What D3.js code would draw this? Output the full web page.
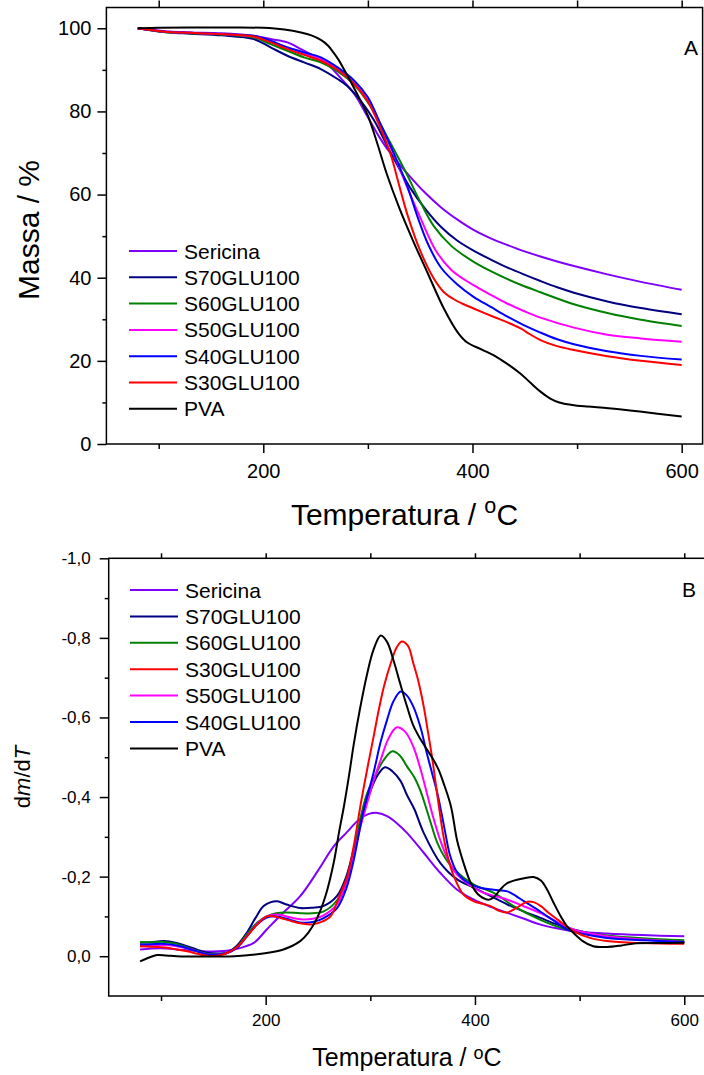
<!DOCTYPE html>
<html>
<head>
<meta charset="utf-8">
<script src="https://cdn.jsdelivr.net/npm/d3@7"></script>
<style>
  body { margin: 0; background: #fff; }
  text { font-family: "Liberation Sans", Arial, sans-serif; fill: #000; }
</style>
</head>
<body>
<div id="chart"></div>
<script>
// ---- panel A : TGA, [temperature (°C), mass (%)] ----
var tgaSericina = [[80,100],[95,99.6],[110,99.2],[130,99],[160,98.8],[190,98.2],[207,97.4],[223,96.6],[236,95],[248,93.4],[261,91.4],[274,88],[287,84.2],[300,78.6],[312,73.4],[322,69.8],[338,65],[354,60.6],[370,56.9],[386,53.9],[401,51.5],[418,49.4],[433,47.9],[449,46.4],[465,45.1],[481,43.9],[497,42.8],[529,40.8],[561,39],[600,37.1]];
var tgaS70 = [[80,100],[95,99.4],[110,99],[130,98.7],[160,98.3],[191,97.4],[207,95.4],[223,93.4],[239,91.8],[255,90.2],[271,87.8],[280,86.2],[293,82.6],[306,77.8],[319,71.4],[331,65.8],[340,61.8],[355,56.5],[370,52.2],[385,49],[401,46.5],[418,44.3],[433,42.5],[449,40.8],[465,39.2],[481,37.7],[497,36.4],[529,34.3],[561,32.7],[600,31.2]];
var tgaS60 = [[80,100],[95,99.4],[110,99],[130,98.8],[159,98.5],[191,97.8],[207,96.2],[223,94.6],[239,93],[255,91.8],[271,89.6],[287,86.4],[303,81],[319,73.6],[335,66],[350,58.3],[363,52.4],[380,47.6],[400,44],[418,41.5],[433,39.7],[446,38.3],[465,36.5],[497,33.6],[529,31.5],[561,29.9],[600,28.4]];
var tgaS50 = [[80,100],[95,99.5],[110,99.1],[130,98.9],[159,98.6],[191,98],[207,96.8],[223,95.4],[239,94],[255,92.6],[271,90.2],[287,86.8],[300,82.6],[312,76.5],[325,69.5],[338,61.5],[350,54.5],[365,46.5],[380,41.8],[401,38.2],[418,35.8],[433,33.8],[449,32],[465,30.4],[497,28],[529,26.3],[561,25.4],[600,24.6]];
var tgaS40 = [[80,100],[95,99.5],[110,99.1],[130,98.9],[159,98.6],[191,98.2],[207,97],[223,95.4],[239,94.2],[255,93],[271,90.6],[287,87.4],[300,83.4],[312,77],[325,69.8],[338,61.8],[347,55],[358,47.8],[370,42.4],[385,38.5],[401,35.4],[418,32.9],[433,30.7],[449,28.6],[465,26.8],[481,25.2],[497,24],[529,22.3],[561,21.2],[600,20.3]];
var tgaS30 = [[80,100],[95,99.5],[110,99.1],[130,98.9],[159,98.6],[191,98],[207,96.6],[223,95],[239,93.6],[255,92.2],[271,90],[287,86.6],[300,82.4],[312,76],[322,69.5],[328,64],[338,55],[350,46.5],[363,39.8],[372,36.7],[381,35],[390,33.8],[401,32.6],[420,30.6],[433,29.3],[446,27.8],[455,26.4],[465,25],[480,23.6],[497,22.6],[529,21.1],[561,20],[600,19]];
var tgaPVA = [[80,100],[100,100.1],[130,100.2],[170,100.2],[200,100.1],[220,99.7],[236,99],[246,98.3],[255,97.2],[262,95.8],[267,94.2],[272,92.4],[277,90.2],[286,86],[293,82.6],[300,79],[309,72.3],[318,65],[330,56.8],[343,49],[357,41.2],[373,32.4],[386,26.8],[395,24.4],[410,22.6],[424,20.8],[436,18.8],[446,16.9],[456,14.6],[465,12.6],[474,11],[483,10],[495,9.4],[510,9],[530,8.6],[560,7.8],[600,6.6]];

// ---- panel B : DTG, [temperature (°C), dm/dT] ----
var dtgSericina = [[80,-0.017],[100,-0.02],[120,-0.016],[138,-0.0125],[160,-0.013],[170,-0.017],[180,-0.024],[189,-0.034],[201,-0.067],[215,-0.105],[233,-0.151],[250,-0.215],[265,-0.276],[277,-0.31],[289,-0.343],[298,-0.357],[307,-0.36],[316,-0.352],[325,-0.335],[335,-0.31],[351,-0.26],[367,-0.209],[383,-0.167],[399,-0.142],[415,-0.124],[431,-0.109],[447,-0.094],[462,-0.08],[478,-0.07],[494,-0.063],[526,-0.057],[560,-0.053],[600,-0.05]];
var dtgS70 = [[80,-0.034],[90,-0.035],[103,-0.038],[115,-0.033],[125,-0.025],[135,-0.016],[144,-0.009],[155,-0.007],[163,-0.009],[172,-0.025],[182,-0.059],[190,-0.095],[198,-0.126],[205,-0.136],[211,-0.138],[220,-0.13],[233,-0.121],[245,-0.122],[255,-0.126],[268,-0.151],[277,-0.2],[284,-0.268],[292,-0.35],[300,-0.415],[307,-0.455],[314,-0.475],[321,-0.465],[329,-0.44],[335,-0.405],[342,-0.37],[351,-0.31],[367,-0.234],[383,-0.193],[399,-0.172],[415,-0.151],[431,-0.13],[447,-0.112],[462,-0.097],[478,-0.08],[494,-0.067],[526,-0.05],[560,-0.042],[600,-0.036]];
var dtgS60 = [[80,-0.036],[90,-0.035],[103,-0.036],[115,-0.031],[125,-0.022],[135,-0.013],[144,-0.006],[155,-0.005],[163,-0.008],[172,-0.022],[182,-0.055],[192,-0.085],[201,-0.1],[210,-0.108],[220,-0.11],[233,-0.108],[245,-0.108],[255,-0.112],[268,-0.14],[277,-0.19],[284,-0.25],[290,-0.34],[297,-0.41],[303,-0.444],[312,-0.49],[321,-0.515],[328,-0.505],[335,-0.477],[342,-0.45],[348,-0.415],[356,-0.35],[364,-0.285],[372,-0.245],[380,-0.218],[399,-0.18],[418,-0.159],[437,-0.126],[462,-0.092],[478,-0.075],[494,-0.063],[526,-0.052],[560,-0.045],[600,-0.04]];
var dtgS50 = [[80,-0.025],[90,-0.026],[103,-0.028],[115,-0.025],[125,-0.02],[135,-0.012],[144,-0.005],[155,-0.004],[163,-0.008],[172,-0.02],[182,-0.05],[192,-0.082],[201,-0.1],[210,-0.105],[220,-0.1],[233,-0.093],[245,-0.094],[255,-0.102],[268,-0.13],[277,-0.18],[284,-0.25],[291,-0.33],[297,-0.385],[303,-0.44],[310,-0.494],[317,-0.545],[325,-0.575],[333,-0.565],[341,-0.527],[348,-0.47],[354,-0.41],[360,-0.35],[367,-0.29],[373,-0.25],[380,-0.215],[386,-0.197],[405,-0.163],[418,-0.152],[431,-0.142],[447,-0.125],[462,-0.109],[478,-0.087],[494,-0.067],[526,-0.05],[560,-0.042],[600,-0.036]];
var dtgS40 = [[80,-0.029],[90,-0.03],[103,-0.031],[115,-0.027],[125,-0.02],[135,-0.012],[144,-0.005],[155,-0.004],[163,-0.008],[172,-0.02],[182,-0.05],[192,-0.08],[201,-0.097],[210,-0.1],[220,-0.094],[233,-0.085],[245,-0.086],[255,-0.095],[268,-0.12],[277,-0.17],[284,-0.24],[293,-0.36],[303,-0.46],[310,-0.54],[316,-0.594],[322,-0.64],[329,-0.665],[335,-0.655],[341,-0.628],[348,-0.575],[354,-0.51],[359,-0.46],[364,-0.41],[368,-0.36],[372,-0.305],[376,-0.255],[382,-0.215],[389,-0.193],[405,-0.172],[418,-0.167],[431,-0.163],[440,-0.15],[447,-0.138],[462,-0.113],[475,-0.09],[488,-0.067],[505,-0.055],[526,-0.046],[560,-0.04],[600,-0.036]];
var dtgS30 = [[80,-0.025],[90,-0.024],[106,-0.021],[115,-0.017],[125,-0.0125],[135,-0.006],[144,-0.001],[155,-0.002],[163,-0.008],[172,-0.022],[182,-0.05],[192,-0.08],[201,-0.1],[208,-0.1],[214,-0.096],[225,-0.088],[233,-0.083],[245,-0.08],[255,-0.088],[262,-0.1],[271,-0.155],[278,-0.2],[285,-0.29],[291,-0.385],[297,-0.47],[303,-0.55],[308,-0.618],[313,-0.678],[320,-0.74],[325,-0.775],[330,-0.791],[336,-0.78],[341,-0.737],[346,-0.69],[351,-0.628],[355,-0.565],[359,-0.5],[364,-0.405],[370,-0.3],[375,-0.24],[380,-0.2],[389,-0.155],[399,-0.138],[407,-0.132],[415,-0.126],[423,-0.114],[431,-0.11],[440,-0.122],[450,-0.137],[456,-0.136],[463,-0.126],[470,-0.11],[479,-0.092],[494,-0.063],[510,-0.046],[526,-0.038],[560,-0.033],[600,-0.031]];
var dtgPVA = [[80,0.013],[88,0.004],[96,-0.003],[105,-0.002],[115,0],[140,0.001],[170,0],[190,-0.004],[201,-0.008],[217,-0.017],[233,-0.038],[241,-0.06],[249,-0.095],[257,-0.15],[265,-0.235],[270,-0.31],[275,-0.38],[280,-0.46],[284,-0.53],[290,-0.62],[297,-0.71],[303,-0.77],[310,-0.806],[316,-0.79],[322,-0.745],[328,-0.69],[335,-0.628],[341,-0.58],[348,-0.545],[354,-0.52],[360,-0.495],[365,-0.47],[370,-0.435],[377,-0.377],[383,-0.29],[389,-0.235],[395,-0.19],[400,-0.165],[405,-0.151],[413,-0.142],[418,-0.148],[424,-0.167],[430,-0.182],[437,-0.19],[447,-0.196],[456,-0.199],[463,-0.19],[469,-0.167],[475,-0.135],[482,-0.1],[488,-0.075],[494,-0.059],[503,-0.038],[513,-0.025],[526,-0.023],[540,-0.027],[552,-0.032],[575,-0.033],[600,-0.034]];

// series names, colours, legend order
var seriesColors = { "Sericina": "#8000ff", "S70GLU100": "#000080", "S60GLU100": "#008000", "S50GLU100": "#ff00ff", "S40GLU100": "#0000ff", "S30GLU100": "#ff0000", "PVA": "#000000" };
var drawOrder = ["Sericina", "S70GLU100", "S60GLU100", "S50GLU100", "S40GLU100", "S30GLU100", "PVA"];
var legendA = ["Sericina", "S70GLU100", "S60GLU100", "S50GLU100", "S40GLU100", "S30GLU100", "PVA"];
var legendB = ["Sericina", "S70GLU100", "S60GLU100", "S30GLU100", "S50GLU100", "S40GLU100", "PVA"];
var tgaData = { "Sericina": tgaSericina, "S70GLU100": tgaS70, "S60GLU100": tgaS60, "S50GLU100": tgaS50, "S40GLU100": tgaS40, "S30GLU100": tgaS30, "PVA": tgaPVA };
var dtgData = { "Sericina": dtgSericina, "S70GLU100": dtgS70, "S60GLU100": dtgS60, "S50GLU100": dtgS50, "S40GLU100": dtgS40, "S30GLU100": dtgS30, "PVA": dtgPVA };

// ticks
var xMajor = [200, 400, 600], xMinor = [100, 300, 500], xTop = [100, 200, 300, 400, 500, 600];
var yMajorA = [0, 20, 40, 60, 80, 100], yMinorA = [10, 30, 50, 70, 90];
var yMajorB = [-1.0, -0.8, -0.6, -0.4, -0.2, 0.0], yMinorB = [-0.9, -0.7, -0.5, -0.3, -0.1];

var svg = d3.select("#chart").append("svg")
    .attr("width", 704)
    .attr("height", 1075);

function commaFmt(d) {
    return (d < -1e-9 ? "-" : "") + Math.abs(d).toFixed(1).replace(".", ",");
}

function styleAxis(sel, fontSize) {
    sel.attr("font-family", '"Liberation Sans", Arial, sans-serif')
        .attr("font-size", fontSize);
    sel.selectAll("line").attr("stroke", "#000").attr("stroke-width", 1.5);
    sel.selectAll("path").remove();
    sel.selectAll("text").attr("fill", "#000");
}

function drawPanel(p) {
    var x = d3.scaleLinear().domain([50, 620]).range(p.xRange);
    var y = d3.scaleLinear().domain(p.yDomain).range(p.yRange);
    var g = svg.append("g");

    // lines
    var line = d3.line()
        .curve(d3.curveCatmullRom.alpha(0.5))
        .x(function (d) { return x(d[0]) })
        .y(function (d) { return y(d[1]) });
    drawOrder.forEach(function (name) {
        g.append("path")
            .datum(p.data[name])
            .attr("fill", "none")
            .attr("stroke", seriesColors[name])
            .attr("stroke-width", 2)
            .attr("stroke-linejoin", "round")
            .attr("d", line);
    });

    // frame
    g.append("rect")
        .attr("x", p.xRange[0]).attr("y", p.yRange[1])
        .attr("width", p.xRange[1] - p.xRange[0])
        .attr("height", p.yRange[0] - p.yRange[1])
        .attr("fill", "none").attr("stroke", "#000").attr("stroke-width", 1.5);

    // bottom axis
    g.append("g").attr("transform", "translate(0," + p.yRange[0] + ")")
        .call(d3.axisBottom(x).tickValues(xMajor).tickSize(9).tickPadding(p.xPad).tickFormat(d3.format("d")))
        .call(styleAxis, p.tickFont);
    g.append("g").attr("transform", "translate(0," + p.yRange[0] + ")")
        .call(d3.axisBottom(x).tickValues(xMinor).tickSize(5).tickFormat(""))
        .call(styleAxis, p.tickFont);
    // top axis
    g.append("g").attr("transform", "translate(0," + p.yRange[1] + ")")
        .call(d3.axisTop(x).tickValues(xTop).tickSize(p.topTick).tickFormat(""))
        .call(styleAxis, p.tickFont);
    // left axis
    g.append("g").attr("transform", "translate(" + p.xRange[0] + ",0)")
        .call(d3.axisLeft(y).tickValues(p.yMajor).tickSize(9).tickPadding(p.yPad).tickFormat(p.yFmt))
        .call(styleAxis, p.tickFont);
    g.append("g").attr("transform", "translate(" + p.xRange[0] + ",0)")
        .call(d3.axisLeft(y).tickValues(p.yMinor).tickSize(4).tickFormat(""))
        .call(styleAxis, p.tickFont);

    // legend
    p.legend.forEach(function (name, i) {
        var ly = p.legendY + i * p.legendStep;
        g.append("line")
            .attr("x1", p.legendX).attr("x2", p.legendX + 48)
            .attr("y1", ly).attr("y2", ly)
            .attr("stroke", seriesColors[name]).attr("stroke-width", 2);
        g.append("text")
            .attr("x", p.legendX + 55).attr("y", ly)
            .attr("dy", "0.36em")
            .style("font-size", "21px")
            .text(name);
    });

    // panel letter
    g.append("text")
        .attr("x", p.letterX).attr("y", p.letterY)
        .attr("text-anchor", "end")
        .style("font-size", "21px")
        .text(p.letter);

    // x title
    var xt = g.append("text")
        .attr("x", (p.xRange[0] + p.xRange[1]) / 2)
        .attr("y", p.xTitleY)
        .attr("text-anchor", "middle")
        .style("font-size", p.xTitleFont + "px");
    xt.append("tspan").text("Temperatura / ");
    xt.append("tspan").attr("dy", -p.supShift).style("font-size", (p.xTitleFont * 0.72) + "px").text("o");
    xt.append("tspan").attr("dy", p.supShift).text("C");

    return g;
}

// Panel A
var gA = drawPanel({
    data: tgaData, legend: legendA,
    xRange: [106.4, 702.6], yDomain: [0, 105], yRange: [444, 7.5],
    yMajor: yMajorA, yMinor: yMinorA, yFmt: d3.format("d"),
    tickFont: 20, xPad: 11, yPad: 6, topTick: 7,
    legendX: 129, legendY: 251, legendStep: 26.3,
    letter: "A", letterX: 698, letterY: 55,
    xTitleY: 525, xTitleFont: 30, supShift: 12
});
gA.append("text")
    .attr("transform", "translate(39," + 230 + ") rotate(-90)")
    .attr("text-anchor", "middle")
    .style("font-size", "30px")
    .text("Massa / %");

// Panel B
var gB = drawPanel({
    data: dtgData, legend: legendB,
    xRange: [108.7, 705.2], yDomain: [0.1, -1.0], yRange: [996, 558.3],
    yMajor: yMajorB, yMinor: yMinorB, yFmt: commaFmt,
    tickFont: 17, xPad: 9, yPad: 9, topTick: 5,
    legendX: 130, legendY: 590, legendStep: 26.4,
    letter: "B", letterX: 696, letterY: 597,
    xTitleY: 1066, xTitleFont: 25, supShift: 7
});
var yb = gB.append("text")
    .attr("transform", "translate(30," + 777 + ") rotate(-90)")
    .attr("text-anchor", "middle")
    .style("font-size", "22px");
yb.append("tspan").text("d");
yb.append("tspan").style("font-style", "italic").text("m");
yb.append("tspan").text("/d");
yb.append("tspan").style("font-style", "italic").text("T");
</script>
</body>
</html>
